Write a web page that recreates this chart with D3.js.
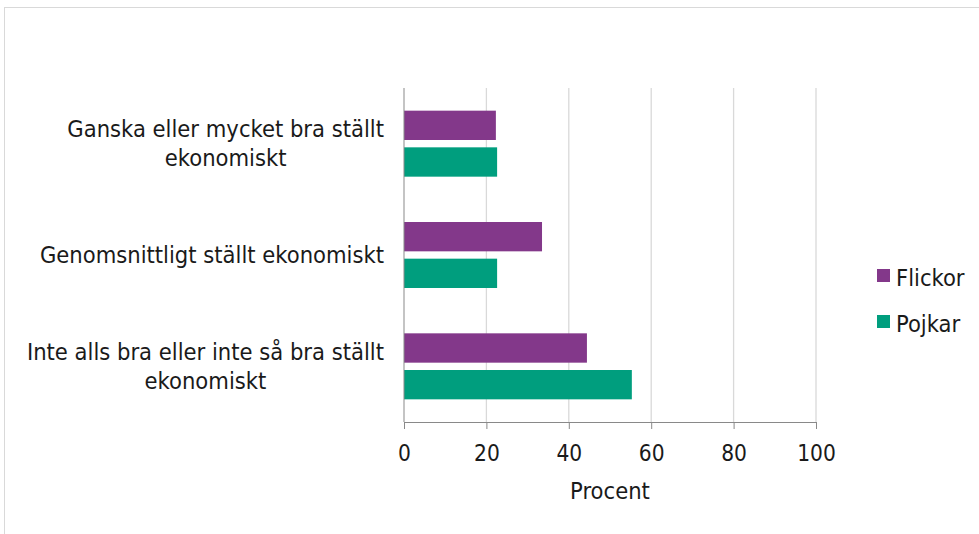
<!DOCTYPE html>
<html>
<head>
<meta charset="utf-8">
<script src="https://cdn.jsdelivr.net/npm/d3@7"></script>
<style>
  body { margin: 0; background: #fff; }
  text { font-family: "DejaVu Sans Condensed", "DejaVu Sans", sans-serif; fill: #1a1a1a; }
</style>
</head>
<body>
<div id="chart"></div>
<script>
// data
const categories = [
  "Ganska eller mycket bra ställt ekonomiskt",
  "Genomsnittligt ställt ekonomiskt",
  "Inte alls bra eller inte så bra ställt ekonomiskt"
];
const labelLines = [
  ["Ganska eller mycket bra ställt", "ekonomiskt"],
  ["Genomsnittligt ställt ekonomiskt"],
  ["Inte alls bra eller inte så bra ställt", "ekonomiskt"]
];
const seriesNames = ["Flickor", "Pojkar"];
const flickor = [22.3, 33.5, 44.4];
const pojkar = [22.6, 22.6, 55.3];
const xTicks = [0, 20, 40, 60, 80, 100];
const colors = ["#83388a", "#009e7e"];

var W = 979, H = 534;
var margin = {top: 88, left: 404, right: 163, bottom: 112};
var width = W - margin.left - margin.right,
    height = H - margin.top - margin.bottom;
var fs = "23.5px", tickFs = "22.5px";

var svg = d3.select("#chart").append("svg")
    .attr("width", W).attr("height", H);

// outer frame
svg.append("rect")
    .attr("x", 4.5).attr("y", 7.5)
    .attr("width", W + 10).attr("height", H + 10)
    .attr("fill", "none").attr("stroke", "#d9d9d9");

var g = svg.append("g")
    .attr("transform", "translate(" + margin.left + "," + margin.top + ")");

var x = d3.scaleLinear().domain([0, 100]).range([0, width]);
var y = d3.scaleBand().domain(categories).range([0, height]);
var inner = d3.scaleBand().domain(seriesNames)
    .range([0, 66]).paddingInner(0.2);

// gridlines
g.selectAll(".grid")
    .data(xTicks.slice(1))
  .enter().append("line")
    .attr("x1", d => x(d)).attr("x2", d => x(d))
    .attr("y1", 0).attr("y2", height)
    .attr("stroke", "#d9d9d9").attr("stroke-width", 1.3);

// bars
var series = [flickor, pojkar];
series.forEach(function(vals, si) {
  g.selectAll(".bar" + si)
      .data(vals)
    .enter().append("rect")
      .attr("x", 0)
      .attr("y", (d, i) => y(categories[i]) + (y.bandwidth() - 66) / 2 + inner(seriesNames[si]))
      .attr("width", d => x(d))
      .attr("height", inner.bandwidth())
      .attr("fill", colors[si]);
});

// x axis
var xAxis = g.append("g")
    .attr("transform", "translate(0," + height + ")")
    .call(d3.axisBottom(x).tickValues(xTicks).tickSize(7).tickPadding(0));
xAxis.select(".domain").attr("stroke", "#898989");
xAxis.selectAll(".tick line").attr("stroke", "#898989");
xAxis.selectAll("text")
    .attr("dy", null).attr("y", 461 - margin.top - height)
    .style("font-size", tickFs).attr("fill", "#1a1a1a");

// y axis line
g.append("line")
    .attr("x1", 0).attr("x2", 0).attr("y1", 0).attr("y2", height)
    .attr("stroke", "#898989");

// category labels, lines centred, block right-aligned
labelLines.forEach(function(lines, i) {
  var t = svg.append("text")
      .style("font-size", fs)
      .attr("text-anchor", "middle");
  var cy = margin.top + y(categories[i]) + y.bandwidth() / 2;
  var lh = 29;
  var y0 = cy - (lines.length - 1) * lh / 2 + 8;
  lines.forEach(function(l, k) {
    t.append("tspan").attr("y", y0 + k * lh).text(l);
  });
  var maxW = d3.max(t.selectAll("tspan").nodes(), n => n.getComputedTextLength());
  t.selectAll("tspan").attr("x", margin.left - 20 - maxW / 2);
});

// x axis title
svg.append("text")
    .attr("x", margin.left + x(50)).attr("y", 499)
    .attr("text-anchor", "middle")
    .style("font-size", fs)
    .text("Procent");

// legend
var legend = svg.append("g").attr("transform", "translate(877,269)");
seriesNames.forEach(function(s, i) {
  legend.append("rect")
      .attr("x", 0).attr("y", i * 46)
      .attr("width", 13).attr("height", 13)
      .attr("fill", colors[i]);
  legend.append("text")
      .attr("x", 19).attr("y", i * 46 + 16.5)
      .style("font-size", fs)
      .text(s);
});
</script>
</body>
</html>
